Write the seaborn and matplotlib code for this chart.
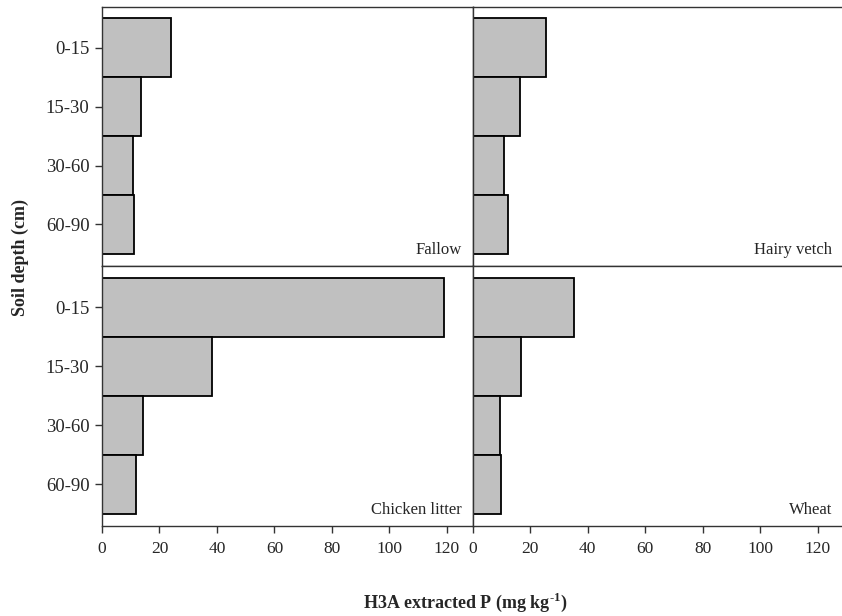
import matplotlib
matplotlib.use("Agg")
import matplotlib.pyplot as plt
import seaborn as sns
import pandas as pd

depths = ["0-15", "15-30", "30-60", "60-90"]
fallow = [23.9, 13.4, 10.8, 11.0]
hairy_vetch = [25.4, 16.5, 10.9, 12.2]
chicken_litter = [118.9, 38.4, 14.3, 12.0]
wheat = [35.2, 16.9, 9.6, 9.9]
x_ticks = [0, 20, 40, 60, 80, 100, 120]

sns.set_style("white")
plt.rcParams["font.family"] = ["Liberation Serif", "DejaVu Serif"]
plt.rcParams["mathtext.fontset"] = "custom"
plt.rcParams["mathtext.rm"] = "Liberation Serif:bold"
plt.rcParams["mathtext.bf"] = "Liberation Serif:bold"

fig = plt.figure(figsize=(8.42, 6.16), dpi=100)

W = 842.0
H = 616.0
def rect(x0, y0, x1, y1):
    return [x0 / W, 1 - y1 / H, (x1 - x0) / W, (y1 - y0) / H]

panels = [
    ("Fallow", fallow, rect(102, 6.7, 472.7, 265.7), True, False),
    ("Hairy vetch", hairy_vetch, rect(472.7, 6.7, 843.5, 265.7), False, False),
    ("Chicken litter", chicken_litter, rect(102, 265.7, 472.7, 525.7), True, True),
    ("Wheat", wheat, rect(472.7, 265.7, 843.5, 525.7), False, True),
]

for name, vals, r, left, bottom in panels:
    ax = fig.add_axes(r)
    df = pd.DataFrame({"depth": depths, "P": vals})
    sns.barplot(data=df, y="depth", x="P", orient="h", color="#c0c0c0",
                edgecolor="black", linewidth=1.3, width=1.0, saturation=1,
                ax=ax)
    ax.set_xlim(0, 129)
    ax.set_ylim(3.7, -0.7)
    ax.set_xlabel("")
    ax.set_ylabel("")
    for s in ax.spines.values():
        s.set_color("#333333")
        s.set_linewidth(1.0)
    ax.set_xticks(x_ticks)
    if bottom:
        ax.tick_params(axis="x", which="both", bottom=True, length=5, width=1,
                       color="#333333", labelsize=12.5, pad=6, direction="out")
    else:
        ax.tick_params(axis="x", bottom=False, labelbottom=False)
    if left:
        ax.tick_params(axis="y", left=True, length=5, width=1,
                       color="#333333", labelsize=13.5, pad=4, direction="out")
    else:
        ax.tick_params(axis="y", left=False, labelleft=False)
    ax.text(0.97, 0.028, name, transform=ax.transAxes, ha="right", va="bottom",
            fontsize=12)

fig.text(20 / W, 1 - 258 / H, "Soil depth (cm)", rotation=90, ha="center",
         va="center", fontsize=13, fontweight="bold")
fig.text(465 / W, 1 - 602 / H, r"H3A extracted P (mg kg$^{\text{-1}}$)",
         ha="center", va="center", fontsize=13, fontweight="bold")

fig.savefig("out.png", dpi=100)
